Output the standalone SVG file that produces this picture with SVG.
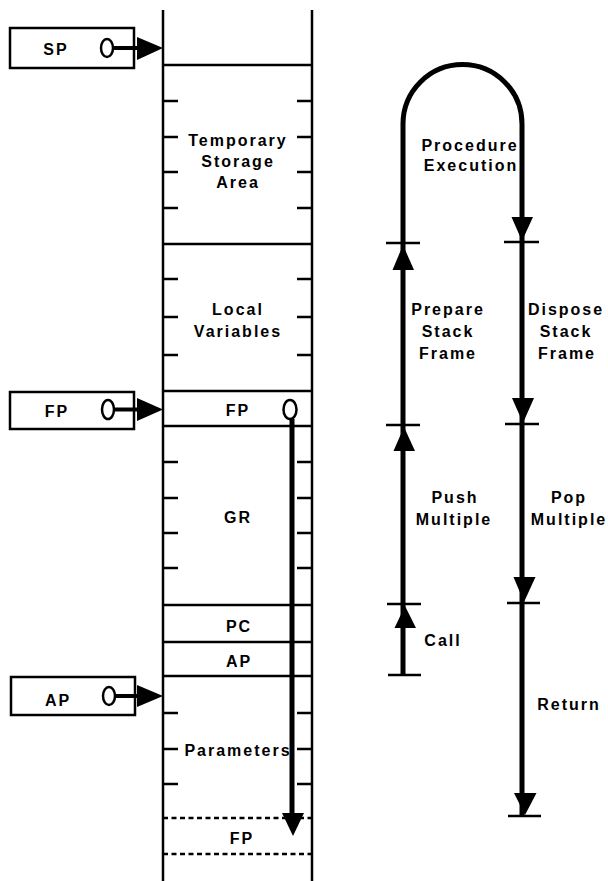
<svg xmlns="http://www.w3.org/2000/svg" width="608" height="881" viewBox="0 0 608 881">
<style>
.ln{stroke:#000;stroke-width:2.5;fill:none}
.tk{stroke:#000;stroke-width:2.5}
.dash{stroke:#000;stroke-width:2.5;stroke-dasharray:5 3.5;fill:none}
.box{stroke:#000;stroke-width:2.5;fill:#fff}
.ring{stroke:#000;stroke-width:2.5;fill:#fff}
.thick{stroke:#000;stroke-width:4;fill:none}
.flow{stroke:#000;stroke-width:5;fill:none}
.bar{stroke:#000;stroke-width:2.5}
.head{fill:#000}
text{font-family:"Liberation Sans",Arial,Helvetica,sans-serif;font-weight:bold;font-size:16px;letter-spacing:2px;text-anchor:middle;fill:#000}
</style>
<rect width="608" height="881" fill="#fff"/>
<g id="stack">
<line class="ln" x1="163" y1="10" x2="163" y2="881"/>
<line class="ln" x1="312" y1="10" x2="312" y2="881"/>
<line class="ln" x1="163" y1="65" x2="312" y2="65"/>
<line class="ln" x1="163" y1="244" x2="312" y2="244"/>
<line class="ln" x1="163" y1="391" x2="312" y2="391"/>
<line class="ln" x1="163" y1="426" x2="312" y2="426"/>
<line class="ln" x1="163" y1="605" x2="312" y2="605"/>
<line class="ln" x1="163" y1="642" x2="312" y2="642"/>
<line class="ln" x1="163" y1="676" x2="312" y2="676"/>
<line class="dash" x1="163" y1="818" x2="312" y2="818"/>
<line class="dash" x1="163" y1="854" x2="312" y2="854"/>
<g id="ticks">
<path class="tk" d="M163 101h15M297 101h15M163 137h15M297 137h15M163 172h15M297 172h15M163 208h15M297 208h15"/>
<path class="tk" d="M163 279h15M297 279h15M163 317h15M297 317h15M163 355h15M297 355h15"/>
<path class="tk" d="M163 462h15M297 462h15M163 498h15M297 498h15M163 533h15M297 533h15M163 568h15M297 568h15"/>
<path class="tk" d="M163 713h15M297 713h15M163 749h15M297 749h15M163 784h15M297 784h15"/>
</g>
</g>
<g id="cell-temp"><text x="238" y="146">Temporary</text><text x="238" y="167">Storage</text><text x="238" y="188">Area</text></g>
<g id="cell-local"><text x="238" y="315">Local</text><text x="238" y="337">Variables</text></g>
<g id="cell-fp"><text x="238" y="416">FP</text><ellipse class="ring" cx="290" cy="409.5" rx="6.5" ry="9.5"/></g>
<g id="cell-gr"><text x="238" y="523">GR</text></g>
<g id="cell-pc"><text x="239" y="632">PC</text></g>
<g id="cell-ap"><text x="239" y="667">AP</text></g>
<g id="cell-params"><text x="238" y="756">Parameters</text></g>
<g id="cell-fp-old"><text x="242" y="844">FP</text></g>
<g id="reg-sp"><rect class="box" x="10" y="28" width="124" height="40"/><text x="56" y="55">SP</text><ellipse class="ring" cx="107" cy="48" rx="6" ry="9"/></g>
<g id="reg-fp"><rect class="box" x="10" y="392" width="124" height="37"/><text x="57" y="417">FP</text><ellipse class="ring" cx="108" cy="409.5" rx="6" ry="9.5"/></g>
<g id="reg-ap"><rect class="box" x="11" y="677" width="124" height="38"/><text x="58" y="706">AP</text><ellipse class="ring" cx="109" cy="696" rx="6" ry="9"/></g>
<g id="connectors">
<line class="thick" x1="113" y1="48" x2="140" y2="48"/>
<polygon class="head" points="137,37 137,60 163,48"/>
<line class="thick" x1="114" y1="409.5" x2="140" y2="409.5"/>
<polygon class="head" points="137,398 137,421 163,409.5"/>
<line class="thick" x1="115" y1="696" x2="140" y2="696"/>
<polygon class="head" points="137,685 137,707 163,696"/>
<line class="flow" x1="292" y1="419" x2="292" y2="818"/>
<polygon class="head" points="282,813 304,813 293,836"/>
</g>
<g id="flow">
<path class="flow" d="M403 675V124A59.5 59.5 0 0 1 522 124V816"/>
<line class="bar" x1="386" y1="243" x2="420" y2="243"/>
<line class="bar" x1="386" y1="425" x2="420" y2="425"/>
<line class="bar" x1="387" y1="604" x2="421" y2="604"/>
<line class="bar" x1="388" y1="675" x2="421" y2="675"/>
<line class="bar" x1="504" y1="242" x2="539" y2="242"/>
<line class="bar" x1="505" y1="424" x2="539" y2="424"/>
<line class="bar" x1="507" y1="603" x2="540" y2="603"/>
<line class="bar" x1="508" y1="816" x2="541" y2="816"/>
<polygon class="head" points="403,245 392.5,270 414,270"/>
<polygon class="head" points="404,427 393.5,451 415,451"/>
<polygon class="head" points="405,606 394.5,628 416,628"/>
<polygon class="head" points="522,241 511.5,217 533,217"/>
<polygon class="head" points="523,423 512,398 534,398"/>
<polygon class="head" points="524,602 513.5,577 535.5,577"/>
<polygon class="head" points="525,815 514,793 536.5,793"/>
</g>
<g id="flow-labels">
<text x="470" y="151">Procedure</text><text x="471" y="171">Execution</text>
<text x="448" y="315">Prepare</text><text x="448" y="337">Stack</text><text x="448" y="359">Frame</text>
<text x="566" y="315">Dispose</text><text x="566" y="337">Stack</text><text x="567" y="359">Frame</text>
<text x="455" y="503">Push</text><text x="454" y="525">Multiple</text>
<text x="569" y="503">Pop</text><text x="569" y="525">Multiple</text>
<text x="443" y="646">Call</text>
<text x="569" y="710">Return</text>
</g>
</svg>
